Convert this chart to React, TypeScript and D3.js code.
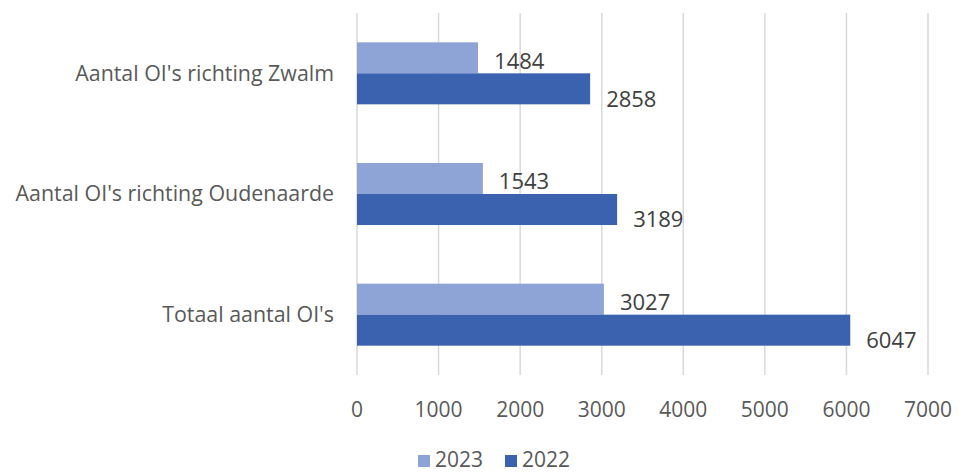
import React, { useRef, useEffect } from "react"
import * as d3 from "d3"

const categories = ["Aantal OI's richting Zwalm", "Aantal OI's richting Oudenaarde", "Totaal aantal OI's"]
const seriesNames = ["2023", "2022"]
const values2023 = [1484, 1543, 3027]
const values2022 = [2858, 3189, 6047]
const xTicks = [0, 1000, 2000, 3000, 4000, 5000, 6000, 7000]

const colors = ["#8EA4D6", "#3A62AF"]
const textColor = "#595959"
const font = "'Open Sans', 'Noto Sans', sans-serif"

const App: React.FC = () => {
  const width = 959
  const height = 473
  const margin = { top: 13, right: 31, bottom: 98, left: 357 }
  const svgRef = useRef<SVGSVGElement>(null)

  useEffect(() => {
    const svg = d3.select(svgRef.current)
    svg.selectAll("*").remove()

    const x = d3.scaleLinear()
      .domain([0, 7000])
      .range([margin.left, width - margin.right])

    const y = d3.scaleBand()
      .domain(categories)
      .range([margin.top, height - margin.bottom])
      .paddingInner(0.486)
      .paddingOuter(0.243)

    const ySub = d3.scaleBand()
      .domain(seriesNames)
      .range([0, y.bandwidth()])

    // gridlines
    svg.append("g")
      .selectAll("line")
      .data(xTicks)
      .enter().append("line")
      .attr("x1", d => x(d))
      .attr("x2", d => x(d))
      .attr("y1", margin.top)
      .attr("y2", height - margin.bottom)
      .attr("stroke", "#D9D9D9")
      .attr("stroke-width", 1.5)

    // tick labels
    svg.append("g")
      .selectAll("text")
      .data(xTicks)
      .enter().append("text")
      .attr("x", d => x(d))
      .attr("y", 410)
      .attr("dy", "0.35em")
      .attr("text-anchor", "middle")
      .attr("font-family", font)
      .attr("font-size", 21)
      .attr("fill", textColor)
      .text(d => d)

    // category labels
    svg.append("g")
      .selectAll("text")
      .data(categories)
      .enter().append("text")
      .attr("x", 334)
      .attr("y", d => (y(d) as number) + y.bandwidth() / 2)
      .attr("dy", "0.35em")
      .attr("text-anchor", "end")
      .attr("font-family", font)
      .attr("font-size", 21.4)
      .attr("fill", textColor)
      .text(d => d)

    const series = [values2023, values2022]
    series.forEach((vals, si) => {
      const g = svg.append("g")
      g.selectAll("rect")
        .data(vals)
        .enter().append("rect")
        .attr("x", x(0))
        .attr("y", (d, i) => (y(categories[i]) as number) + (ySub(seriesNames[si]) as number))
        .attr("width", d => x(d) - x(0))
        .attr("height", ySub.bandwidth())
        .attr("fill", colors[si])

      g.selectAll("text")
        .data(vals)
        .enter().append("text")
        .attr("x", d => x(d) + 16)
        .attr("y", (d, i) => (y(categories[i]) as number) + (ySub(seriesNames[si]) as number) + ySub.bandwidth() / 2 + (si === 0 ? 3 : 10))
        .attr("dy", "0.35em")
        .attr("font-family", font)
        .attr("font-size", 22)
        .attr("fill", "#404040")
        .text(d => d)
    })

    // legend
    const legend = svg.append("g")
    const legendX = [418, 505]
    seriesNames.forEach((name, i) => {
      legend.append("rect")
        .attr("x", legendX[i])
        .attr("y", 455)
        .attr("width", 12)
        .attr("height", 12)
        .attr("fill", colors[i])
      legend.append("text")
        .attr("x", legendX[i] + 17)
        .attr("y", 460)
        .attr("dy", "0.35em")
        .attr("font-family", font)
        .attr("font-size", 21)
        .attr("fill", textColor)
        .text(name)
    })
  }, [])

  return (
    <svg ref={svgRef} width={width} height={height} style={{ position: "absolute", left: 0, top: 0, background: "#fff" }} />
  )
}

export default App
